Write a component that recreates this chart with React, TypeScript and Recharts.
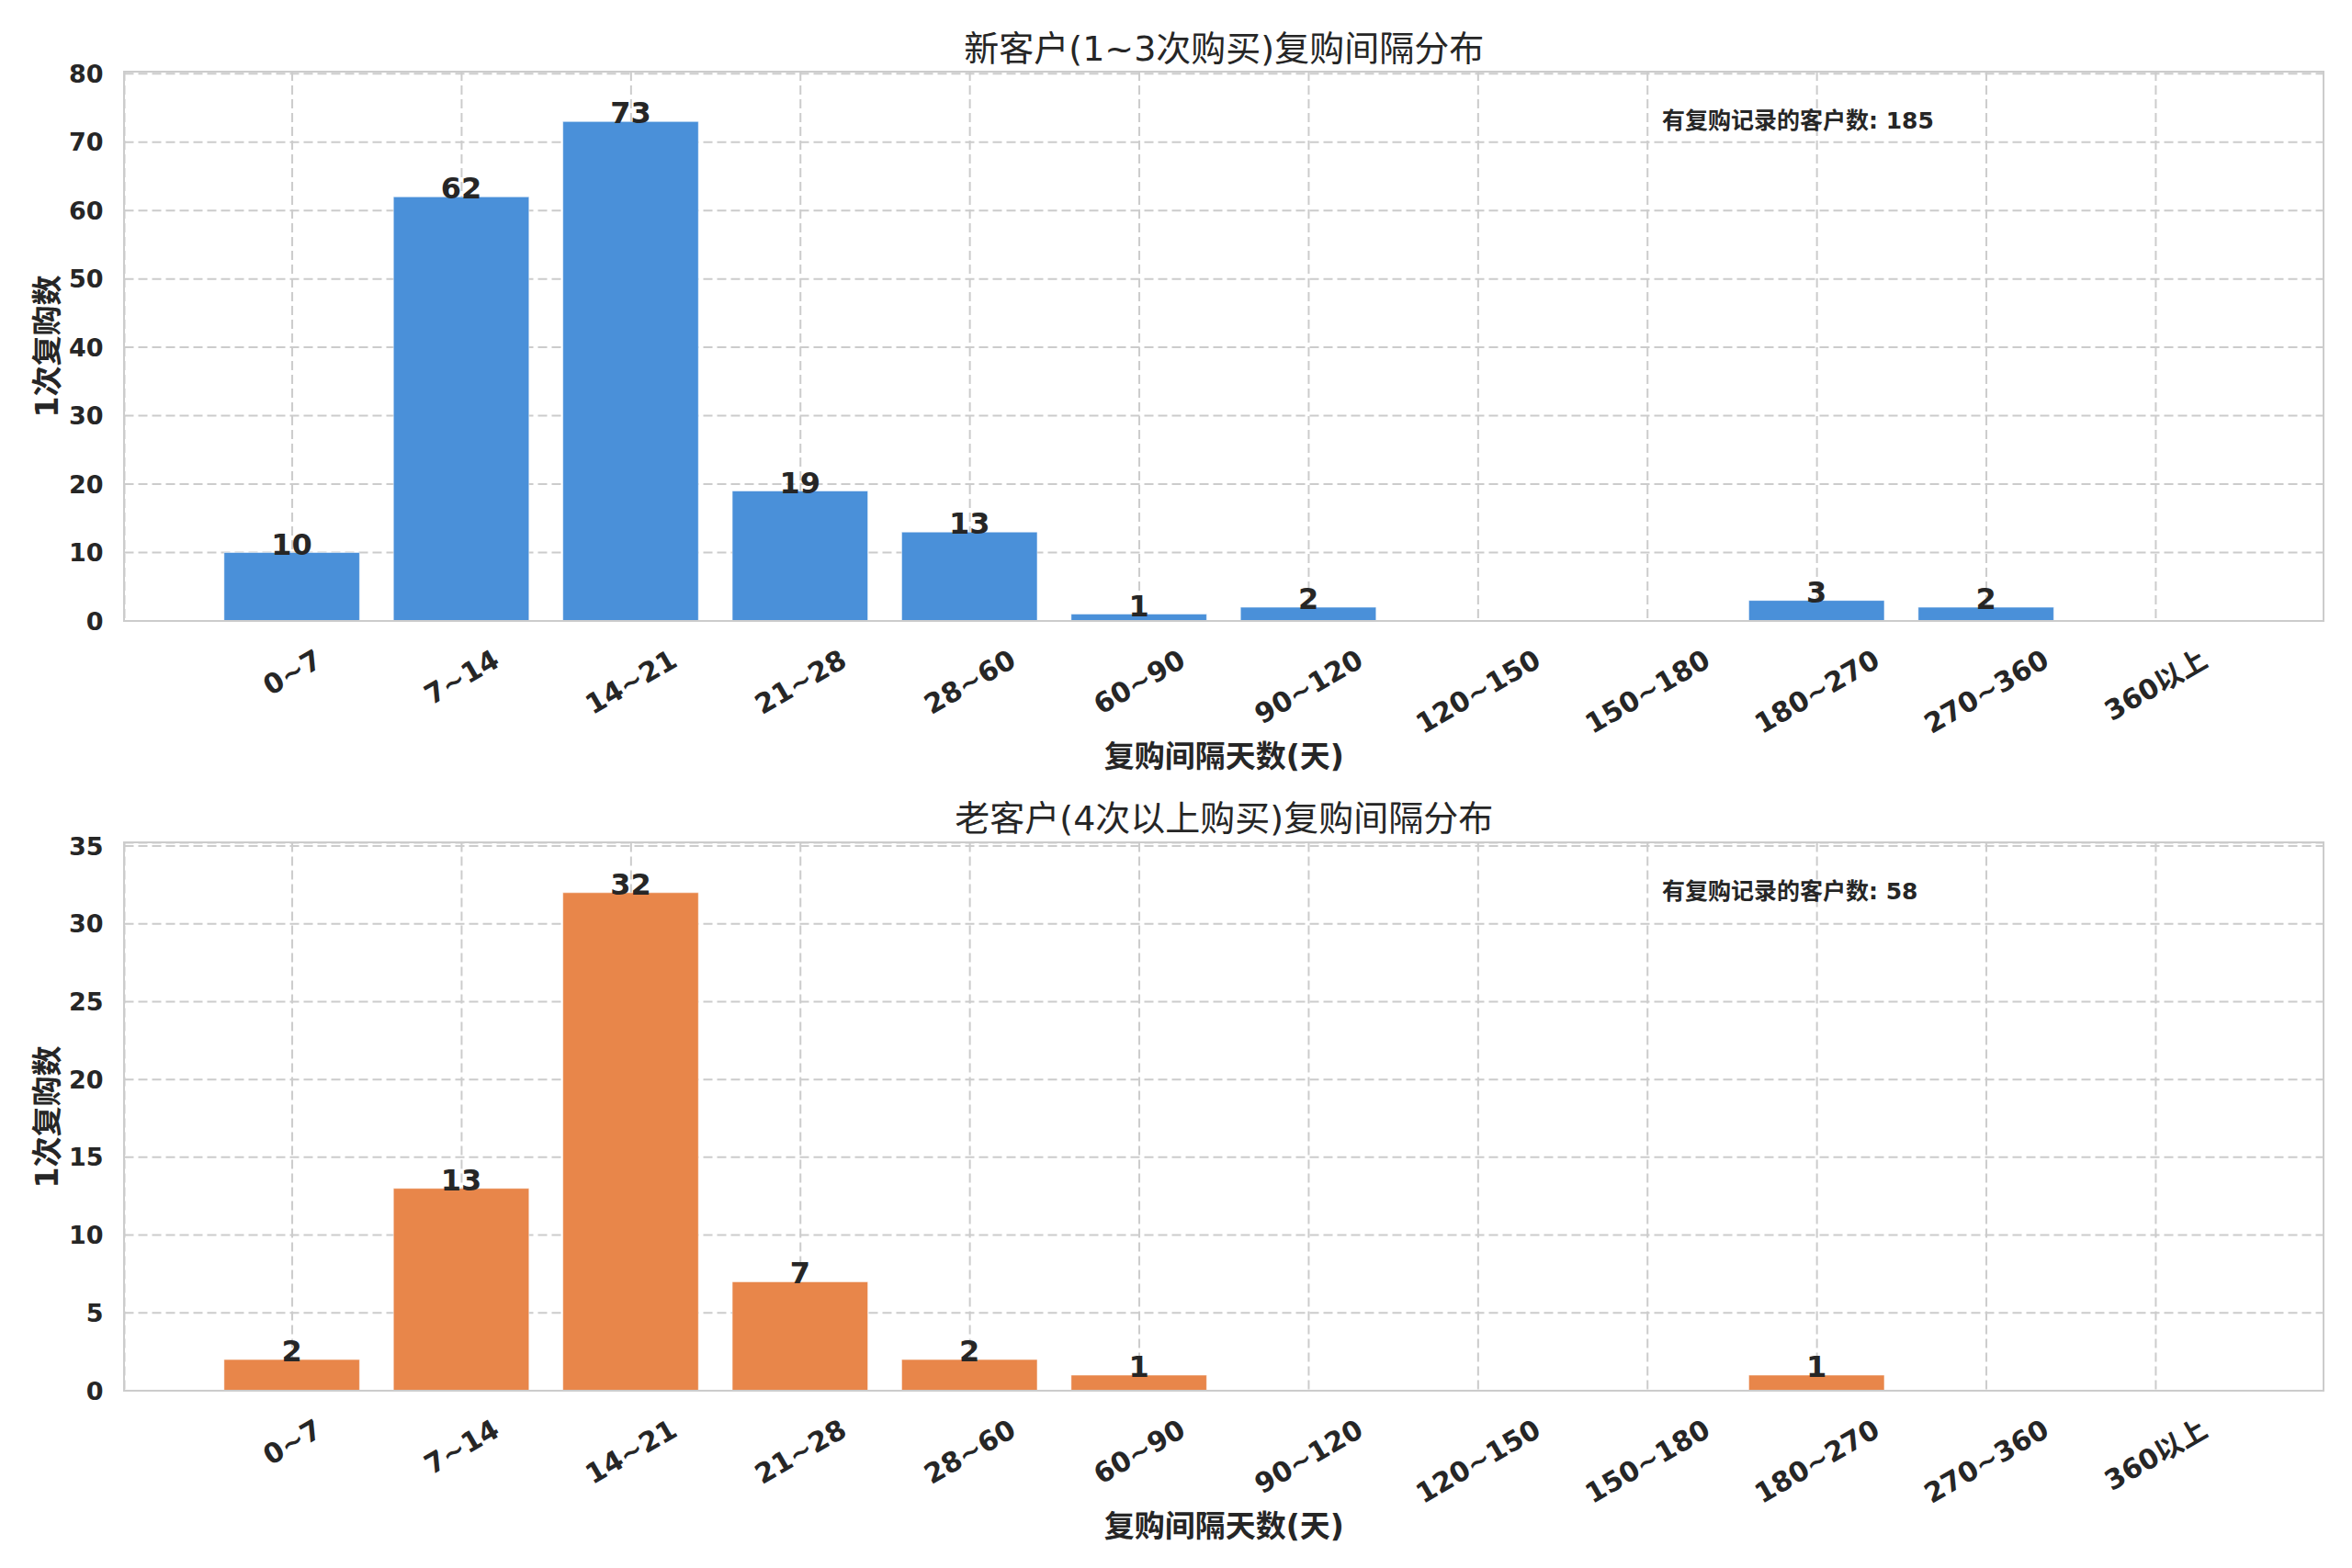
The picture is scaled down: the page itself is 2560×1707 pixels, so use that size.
import React from 'react';
import { BarChart, Bar, XAxis, YAxis, CartesianGrid, LabelList } from 'recharts';

const categories = ['0~7', '7~14', '14~21', '21~28', '28~60', '60~90', '90~120', '120~150', '150~180', '180~270', '270~360', '360以上'];
const lowFreqCounts = [10, 62, 73, 19, 13, 1, 2, 0, 0, 3, 2, 0];
const highFreqCounts = [2, 13, 32, 7, 2, 1, 0, 0, 0, 1, 0, 0];
const lowFreqTicks = [0, 10, 20, 30, 40, 50, 60, 70, 80];
const highFreqTicks = [0, 5, 10, 15, 20, 25, 30, 35];

const FONT = '"DejaVu Sans", "Noto Sans CJK SC", sans-serif';
const TEXT = '#262626';
const GRID = '#cccccc';

const PLOT_LEFT = 135.5;
const PLOT_RIGHT = 2529;
const Y_TICK_FONT = 27;
const X_TICK_FONT = 30;

let ctx: CanvasRenderingContext2D | null = null;
const measure = (s: string) => {
    if (!ctx) ctx = document.createElement('canvas').getContext('2d');
    if (!ctx) return s.length * X_TICK_FONT * 0.7;
    ctx.font = `bold ${X_TICK_FONT}px ${FONT}`;
    return ctx.measureText(s).width;
};

// rotated label, bbox centred on tick, bbox top a bit below axis (like matplotlib rotation=30)
const RotatedTick = (props: any) => {
    const { x, y, payload } = props;
    const label = String(payload.value);
    const w = measure(label);
    const h = X_TICK_FONT * 1.164;
    const boxH = w * 0.5 + h * 0.866;
    const cy = y + 24 + boxH / 2;
    return (
        <text
            x={x}
            y={cy}
            textAnchor="middle"
            dominantBaseline="central"
            transform={`rotate(-30, ${x}, ${cy})`}
            fontFamily={FONT}
            fontSize={X_TICK_FONT}
            fontWeight="bold"
            fill={TEXT}
        >
            {label}
        </text>
    );
};

const ValueLabel = (props: any) => {
    const { x, y, width, value } = props;
    if (!value) return null;
    return (
        <text
            x={x + width / 2}
            y={y + 2}
            textAnchor="middle"
            fontFamily={FONT}
            fontSize={32}
            fontWeight="bold"
            fill={TEXT}
        >
            {value}
        </text>
    );
};

type PanelProps = {
    top: number;
    height: number;
    plotTop: number;
    plotBottom: number;
    counts: number[];
    ticks: number[];
    yMax: number;
    color: string;
    title: string;
    titleY: number;
    note: string;
    noteY: number;
    xLabelY: number;
};

const Panel = ({ top, height, plotTop, plotBottom, counts, ticks, yMax, color, title, titleY, note, noteY, xLabelY }: PanelProps) => {
    const data = categories.map((name, i) => ({ name, count: counts[i] }));
    const xAxisHeight = 100;
    const plotW = PLOT_RIGHT - PLOT_LEFT;
    const unit = plotW / 12.98;
    const pad = 0.49 * unit;
    return (
        <div style={{ position: 'absolute', left: 0, top, width: 2560, height }}>
            <BarChart
                width={2560}
                height={height}
                data={data}
                margin={{ top: plotTop - top, right: 2560 - PLOT_RIGHT, left: 0, bottom: top + height - plotBottom - xAxisHeight }}
            >
                <CartesianGrid stroke={GRID} strokeWidth={2} strokeDasharray="10 5" />
                <XAxis
                    dataKey="name"
                    type="category"
                    interval={0}
                    padding={{ left: pad, right: pad }}
                    height={xAxisHeight}
                    tickLine={false}
                    axisLine={false}
                    tickSize={0}
                    tickMargin={0}
                    tick={<RotatedTick />}
                />
                <YAxis
                    type="number"
                    domain={[0, yMax]}
                    ticks={ticks}
                    width={PLOT_LEFT}
                    tickLine={false}
                    axisLine={false}
                    tickSize={0}
                    tickMargin={23}
                    tick={{ fontFamily: FONT, fontSize: Y_TICK_FONT, fontWeight: 'bold', fill: TEXT }}
                />
                <Bar
                    dataKey="count"
                    fill={color}
                    stroke="#ffffff"
                    strokeOpacity={0.5}
                    strokeWidth={1}
                    barSize={0.8 * unit}
                    isAnimationActive={false}
                >
                    <LabelList dataKey="count" content={<ValueLabel />} />
                </Bar>
            </BarChart>
            {/* spines */}
            <div
                style={{
                    position: 'absolute',
                    left: PLOT_LEFT - 1.25,
                    top: plotTop - top - 1.25,
                    width: plotW + 2.5,
                    height: plotBottom - plotTop + 2.5,
                    border: `2.5px solid ${GRID}`,
                    boxSizing: 'border-box',
                    pointerEvents: 'none',
                }}
            />
            <div
                style={{
                    position: 'absolute',
                    left: (PLOT_LEFT + PLOT_RIGHT) / 2,
                    top: titleY - top,
                    transform: 'translate(-50%, -50%)',
                    fontFamily: FONT,
                    fontSize: 38,
                    color: TEXT,
                    whiteSpace: 'nowrap',
                }}
            >
                {title}
            </div>
            <div
                style={{
                    position: 'absolute',
                    left: 1809,
                    top: noteY - top,
                    transform: 'translateY(-50%)',
                    fontFamily: FONT,
                    fontSize: 25,
                    fontWeight: 'bold',
                    color: TEXT,
                    whiteSpace: 'nowrap',
                }}
            >
                {note}
            </div>
            <div
                style={{
                    position: 'absolute',
                    left: (PLOT_LEFT + PLOT_RIGHT) / 2,
                    top: xLabelY - top,
                    transform: 'translate(-50%, -50%)',
                    fontFamily: FONT,
                    fontSize: 33,
                    fontWeight: 'bold',
                    color: TEXT,
                    whiteSpace: 'nowrap',
                }}
            >
                复购间隔天数(天)
            </div>
            <div
                style={{
                    position: 'absolute',
                    left: 49,
                    top: (plotTop + plotBottom) / 2 - top,
                    transform: 'translate(-50%, -50%) rotate(-90deg)',
                    fontFamily: FONT,
                    fontSize: 33,
                    fontWeight: 'bold',
                    color: TEXT,
                    whiteSpace: 'nowrap',
                }}
            >
                1次复购数
            </div>
        </div>
    );
};

const App = () => {
    const lowTotal = lowFreqCounts.reduce((a, b) => a + b, 0);
    const highTotal = highFreqCounts.reduce((a, b) => a + b, 0);
    return (
        <div style={{ position: 'absolute', left: 0, top: 0, width: 2560, height: 1707, background: '#ffffff', overflow: 'hidden' }}>
            <Panel
                top={0}
                height={853}
                plotTop={78}
                plotBottom={676}
                counts={lowFreqCounts}
                ticks={lowFreqTicks}
                yMax={80.3}
                color="#4a90d9"
                title="新客户(1~3次购买)复购间隔分布"
                titleY={49}
                note={`有复购记录的客户数: ${lowTotal}`}
                noteY={129}
                xLabelY={821}
            />
            <Panel
                top={853}
                height={854}
                plotTop={917.6}
                plotBottom={1514}
                counts={highFreqCounts}
                ticks={highFreqTicks}
                yMax={35.2}
                color="#e8864a"
                title="老客户(4次以上购买)复购间隔分布"
                titleY={887}
                note={`有复购记录的客户数: ${highTotal}`}
                noteY={968}
                xLabelY={1659}
            />
        </div>
    );
};

export default App;
